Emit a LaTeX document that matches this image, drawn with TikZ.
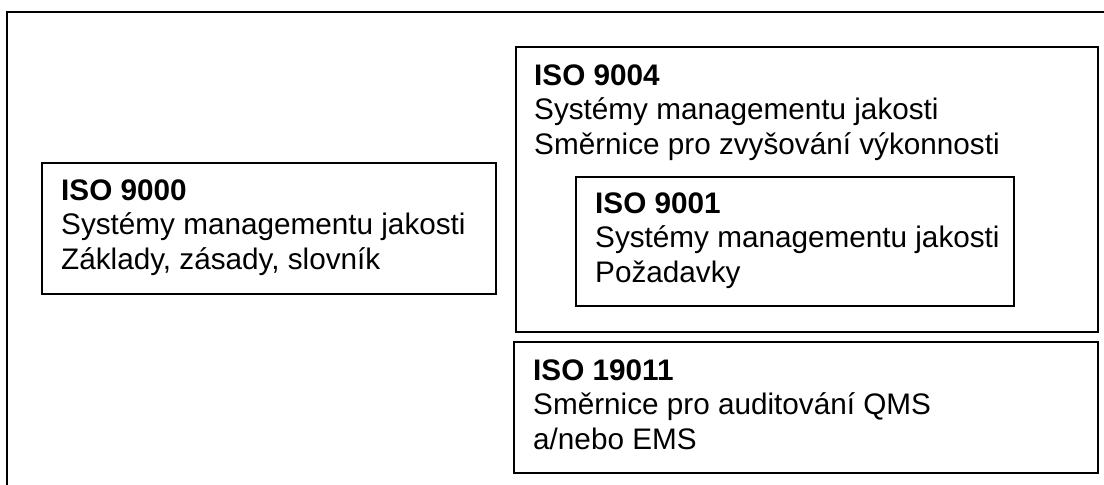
\documentclass[tikz,border=0pt]{standalone}
\usepackage{fontspec}
\setmainfont{Liberation Sans}
\begin{document}
\begin{tikzpicture}[x=1pt,y=-1pt,
  frame/.style={draw=black,line width=1.6pt},
  stdbox/.style={draw=black,line width=1.5pt,rectangle,inner sep=0pt,anchor=north west},
  % three-line labels; the base anchor sits on the last line
  stdtext/.style={anchor=base west,inner sep=0pt,align=left,
    font=\fontsize{29.7}{34.5}\selectfont}]
  \useasboundingbox (0,0) rectangle (1104,485);
  % outer frame, running past the right and bottom edges
  \begin{scope}
    \clip (0,0) rectangle (1104,485);
    \draw[frame] (7,12) rectangle (1112,500);
  \end{scope}

  % ISO 9000
  \node[stdbox,minimum width=454pt,minimum height=131pt] (b9000) at (41,162) {};
  \node[stdtext] (t9000) at ([shift={(20,107)}]b9000.north west)
    {\textbf{ISO 9000}\\Systémy managementu jakosti\\Základy, zásady, slovník};

  % ISO 9004 with ISO 9001 inside
  \node[stdbox,minimum width=582pt,minimum height=285pt] (b9004) at (515,46) {};
  \node[stdtext] (t9004) at ([shift={(19,108)}]b9004.north west)
    {\textbf{ISO 9004}\\Systémy managementu jakosti\\Směrnice pro zvyšování výkonnosti};

  \node[stdbox,minimum width=438pt,minimum height=129pt] (b9001) at (575,176) {};
  \node[stdtext] (t9001) at ([shift={(20,106)}]b9001.north west)
    {\textbf{ISO 9001}\\Systémy managementu jakosti\\Požadavky};

  % ISO 19011
  \node[stdbox,minimum width=584pt,minimum height=131pt] (b19011) at (513,341) {};
  \node[stdtext] (t19011) at ([shift={(20,108)}]b19011.north west)
    {\textbf{ISO 19011}\\Směrnice pro auditování QMS\\a/nebo EMS};
\end{tikzpicture}
\end{document}
